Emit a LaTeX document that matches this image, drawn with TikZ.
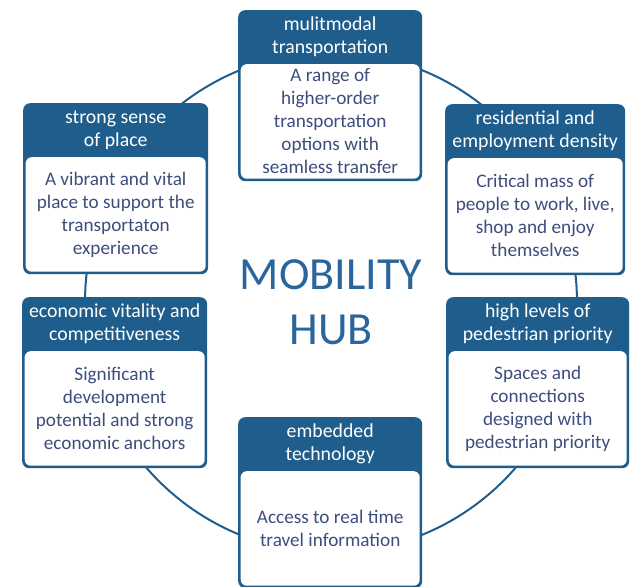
\documentclass[tikz,border=0pt]{standalone}
\usepackage{fontspec}
\setmainfont{Carlito}

\definecolor{hubblue}{HTML}{1F5E8C}
\definecolor{bodytext}{HTML}{3E4E7C}
\definecolor{hubtext}{HTML}{2A659B}

\tikzset{
    cardframe/.style={fill=hubblue, rounded corners=7pt, inner sep=0pt, minimum height=171pt},
    cardhead/.style={text=white, align=center, inner sep=0pt, font=\fontsize{19.8}{23}\selectfont},
    cardbody/.style={fill=white, rounded corners=6pt, inner sep=0pt, minimum height=114.5pt,
        text=bodytext, align=center, font=\fontsize{19.2}{23}\selectfont},
    hubtitle/.style={text=hubtext, align=center, inner sep=0pt, font=\fontsize{46}{55}\selectfont},
    ring/.style={draw=hubblue, line width=2pt},
}

% name, left, top, width, header, body
\newcommand{\hubcard}[6]{%
    \node[cardframe, anchor=north west, minimum width=#4pt] (#1) at (#2,#3) {};
    \node[cardhead] (#1-head) at ([yshift=-27pt]#1.north) {#5};
    \node[cardbody, anchor=north, minimum width=#4pt-5pt] (#1-body) at ([yshift=-54pt]#1.north) {#6};
}

\begin{document}
\begin{tikzpicture}[x=1pt, y=-1pt]
    \useasboundingbox (0,0) rectangle (633,587);

    \node[hubtitle] (hub) at (331,302.5) {MOBILITY\\HUB};
    \draw[ring] (hub.center) ellipse [x radius=246pt, y radius=250pt];

    \hubcard{multimodal}{238}{10}{184}{mulitmodal\\transportation}
        {A range of\\higher-order\\transportation\\options with\\seamless transfer}
    \hubcard{place}{23}{103}{185}{strong sense\\of place}
        {A vibrant and vital\\place to support the\\transportaton\\experience}
    \hubcard{density}{445}{104}{180}{residential and\\employment density}
        {Critical mass of\\people to work, live,\\shop and enjoy\\themselves}
    \hubcard{economy}{22}{297}{185}{economic vitality and\\competitiveness}
        {Significant\\development\\potential and strong\\economic anchors}
    \hubcard{pedestrian}{446}{297}{183}{high levels of\\pedestrian priority}
        {Spaces and\\connections\\designed with\\pedestrian priority}
    \hubcard{technology}{238}{417}{184}{embedded\\technology}
        {Access to real time\\travel information}
\end{tikzpicture}
\end{document}
